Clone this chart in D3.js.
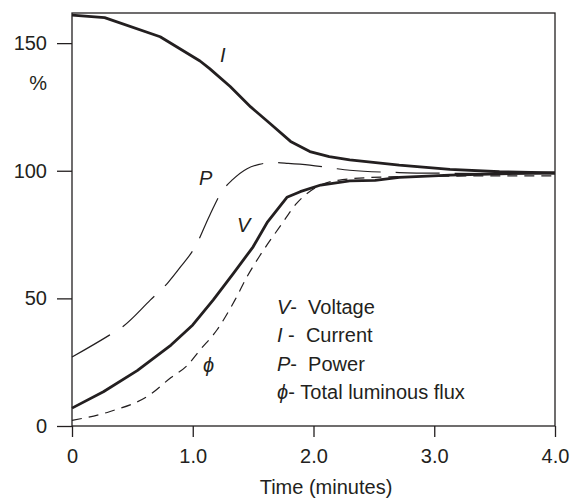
<!DOCTYPE html>
<html>
<head>
<meta charset="utf-8">
<script src="https://cdn.jsdelivr.net/npm/d3@7"></script>
<style>
  body { margin: 0; background: #fff; }
  svg { font-family: "Liberation Sans", Arial, sans-serif; }
  .axis text { font-size: 20px; fill: #231f20; }
  .axis line { stroke: #231f20; stroke-width: 1.3; }
  .axis path { display: none; }
  .lbl { font-size: 20px; fill: #231f20; }
</style>
</head>
<body>
<div class="chart"></div>
<script>
// time (minutes), percent
var current = [[0,161],[0.27,160],[0.73,152.5],[1.06,143],[1.14,140],[1.31,133],[1.48,125],[1.64,118.5],[1.81,111.5],[1.97,107.5],[2.13,105.5],[2.30,104.3],[2.71,102.2],[3.13,100.5],[3.54,99.6],[4.0,99.2]];
var voltage = [[0,7],[0.26,13.4],[0.54,21.7],[0.82,31.7],[1.0,39.6],[1.17,49.4],[1.34,60],[1.5,70.2],[1.62,80],[1.78,89.6],[1.89,91.8],[2.06,94.4],[2.3,96],[2.51,96.2],[2.71,97.4],[3.13,98.3],[3.54,98.8],[4.0,99.2]];
var power = [[0,27],[0.31,35.6],[0.42,38.9],[0.65,49.4],[0.79,55.9],[0.9,62.4],[1.02,70.2],[1.14,82.5],[1.24,91.8],[1.33,96.5],[1.45,100.8],[1.55,102.5],[1.67,103.2],[1.79,102.9],[1.97,102.2],[2.16,101],[2.3,100.2],[2.71,99.3],[3.13,99],[4.0,98.8]];
var flux = [[0,2.2],[0.31,5.6],[0.65,12.4],[0.82,19],[0.95,23.5],[1.06,29.8],[1.2,37.6],[1.35,49.4],[1.45,58.5],[1.55,66.3],[1.72,78],[1.86,87.2],[2.03,93.7],[2.24,96.5],[2.56,97.5],[2.95,97.8],[3.44,98],[4.0,98]];

var xTicks = [0, 1, 2, 3, 4];
var yTicks = [0, 50, 100, 150];

var legendRows = [
  {sym: "V", text: "-  Voltage"},
  {sym: "I", text: " -  Current"},
  {sym: "P", text: "-  Power"},
  {sym: "\u03D5", text: "- Total luminous flux"}
];

var margin = {top: 13, right: 16, bottom: 76, left: 72},
    W = 571, H = 502,
    width = W - margin.left - margin.right,
    height = H - margin.top - margin.bottom;

var x = d3.scaleLinear().domain([0, 4]).range([0, width]);
var y = d3.scaleLinear().domain([0, 161.8]).range([height, 0]);

var svg = d3.select(".chart").append("svg")
    .attr("width", W).attr("height", H)
  .append("g")
    .attr("transform", "translate(" + margin.left + "," + margin.top + ")");

// frame
svg.append("rect")
  .attr("width", width).attr("height", height)
  .attr("fill", "none").attr("stroke", "#231f20").attr("stroke-width", 1.3);

svg.append("g").attr("class", "axis")
  .call(d3.axisLeft(y).tickValues(yTicks).tickSize(15).tickPadding(10));

svg.append("g").attr("class", "axis")
  .attr("transform", "translate(0," + height + ")")
  .call(d3.axisBottom(x).tickValues(xTicks).tickSize(11).tickPadding(12)
    .tickFormat(function(d){ return d === 0 ? "0" : d.toFixed(1); }));

// axis titles
svg.append("text").attr("class", "lbl")
  .attr("x", -25).attr("y", 77).attr("text-anchor", "end").text("%");
svg.append("text").attr("class", "lbl")
  .attr("x", 256 - margin.left + 70).attr("y", 494 - margin.top)
  .attr("text-anchor", "middle").text("Time (minutes)");

var line = d3.line()
  .x(function(d){ return x(d[0]); })
  .y(function(d){ return y(d[1]); });
var smooth = d3.line()
  .curve(d3.curveMonotoneX)
  .x(function(d){ return x(d[0]); })
  .y(function(d){ return y(d[1]); });

svg.append("path").datum(power)
  .attr("d", smooth).attr("fill", "none")
  .attr("stroke", "#231f20").attr("stroke-width", 1.2)
  .attr("stroke-dasharray", "44,15");

svg.append("path").datum(flux)
  .attr("d", smooth).attr("fill", "none")
  .attr("stroke", "#231f20").attr("stroke-width", 1.2)
  .attr("stroke-dasharray", "10,7");

svg.append("path").datum(current)
  .attr("d", line).attr("fill", "none")
  .attr("stroke", "#231f20").attr("stroke-width", 2.8)
  .attr("stroke-linejoin", "round");

svg.append("path").datum(voltage)
  .attr("d", line).attr("fill", "none")
  .attr("stroke", "#231f20").attr("stroke-width", 2.8)
  .attr("stroke-linejoin", "round");

// curve labels
var curveLabels = [
  {t: "I", px: 220, py: 62},
  {t: "P", px: 199, py: 185},
  {t: "V", px: 237, py: 232},
  {t: "\u03D5", px: 203, py: 372}
];
svg.selectAll(".clbl").data(curveLabels).enter().append("text")
  .attr("class", "lbl clbl")
  .attr("x", function(d){ return d.px - margin.left; })
  .attr("y", function(d){ return d.py - margin.top; })
  .style("font-style", "italic")
  .text(function(d){ return d.t; });

// legend
var legend = svg.append("g")
  .attr("transform", "translate(" + (277 - margin.left) + "," + (314 - margin.top) + ")");
var rows = legend.selectAll("text").data(legendRows).enter().append("text")
  .attr("class", "lbl")
  .attr("y", function(d, i){ return i * 28.4; })
  .style("white-space", "pre");
rows.append("tspan").style("font-style", "italic").text(function(d){ return d.sym; });
rows.append("tspan").text(function(d){ return d.text; });
</script>
</body>
</html>
